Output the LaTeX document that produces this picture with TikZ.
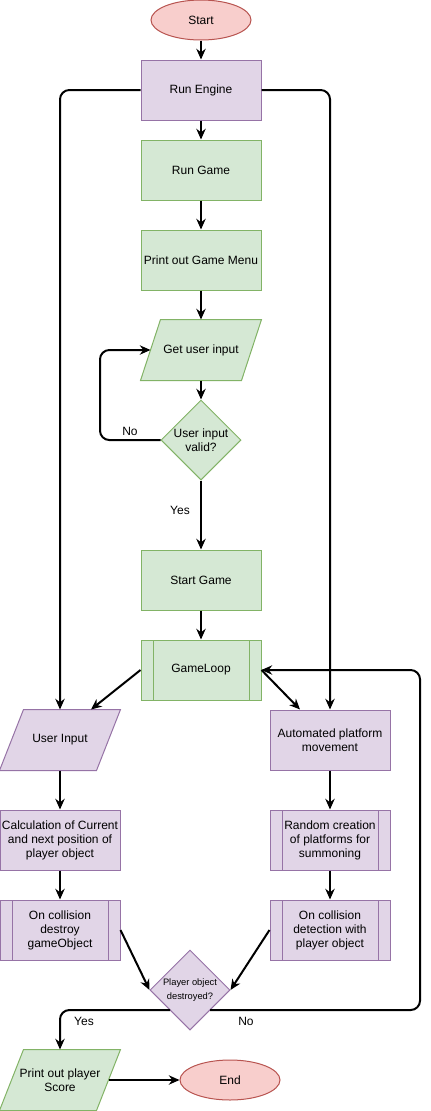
\documentclass[tikz,border=0pt]{standalone}
\usepackage{fontspec}
\setmainfont{Liberation Sans}
\usetikzlibrary{arrows.meta,shapes.geometric,calc}
\definecolor{gfill}{HTML}{D5E8D4}
\definecolor{gdraw}{HTML}{82B366}
\definecolor{pfill}{HTML}{E1D5E7}
\definecolor{pdraw}{HTML}{9673A6}
\definecolor{rfill}{HTML}{F8CECC}
\definecolor{rdraw}{HTML}{B85450}
\newcommand{\paragram}[4]{% name, slant, draw, fill
  \draw[#3, fill=#4, line width=0.75pt]
    ($(#1.north west)+(#2,0)$) -- (#1.north east) -- ($(#1.south east)+(-#2,0)$) -- (#1.south west) -- cycle;}
\begin{document}
\begin{tikzpicture}[x=0.75pt,y=-0.75pt,
  every node/.style={font=\fontsize{9}{10.5}\selectfont, align=center, text=black},
  box/.style={rectangle, minimum width=90pt, minimum height=45pt, inner sep=0pt, line width=0.75pt},
  gbox/.style={box, draw=gdraw, fill=gfill},
  pbox/.style={box, draw=pdraw, fill=pfill},
  txtbox/.style={box, draw=none},
  proc/.style={path picture={
      \draw[#1, line width=0.75pt] ($(path picture bounding box.north west)+(9pt,0pt)$) -- ($(path picture bounding box.south west)+(9pt,0pt)$);
      \draw[#1, line width=0.75pt] ($(path picture bounding box.north east)+(-9pt,0pt)$) -- ($(path picture bounding box.south east)+(-9pt,0pt)$);}},
  term/.style={ellipse, minimum width=75pt, minimum height=30pt, draw=rdraw, fill=rfill, inner sep=0pt, line width=0.75pt},
  dia/.style={diamond, minimum width=60pt, minimum height=60pt, inner sep=0pt, aspect=1, line width=0.75pt},
  arr/.style={line width=1.5pt, -{Stealth[length=8pt,width=7pt]}, rounded corners=7pt},
  lbl/.style={inner sep=0pt}
]
\useasboundingbox (0,0) rectangle (430,1111);

% nodes
\node[term] (start) at (201,20) {Start};
\node[pbox] (re) at (201,90) {Run Engine};
\node[gbox] (rg) at (201,170) {Run Game};
\node[gbox] (pm) at (201,260) {Print out Game Menu};
\node[txtbox] (gi) at (201,350) {};
\paragram{gi}{20}{gdraw}{gfill}
\node[lbl] (gitxt) at (gi) {Get user input};
\node[dia, draw=gdraw, fill=gfill] (d1) at (201,440) {};
\node[lbl] (d1txt) at (d1) {User input\\valid?};
\node[gbox] (sg) at (201,580) {Start Game};
\node[gbox, proc=gdraw] (gl) at (201,670) {GameLoop};

\node[txtbox] (ui) at (60,740) {};
\paragram{ui}{24}{pdraw}{pfill}
\node[lbl] (uitxt) at (ui) {User Input};
\node[pbox] (ap) at (330,740) {Automated platform\\movement};
\node[pbox] (calc) at (60,840) {Calculation of Current\\and next position of\\player object};
\node[pbox, proc=pdraw] (rc) at (330,840) {Random creation\\of platforms for\\summoning};
\node[pbox, proc=pdraw] (ocd) at (60,930) {On collision\\destroy\\gameObject};
\node[pbox, proc=pdraw] (ocp) at (330,930) {On collision\\detection with\\player object};
\node[dia, draw=pdraw, fill=pfill] (d2) at (190,990) {};
\node[lbl, font=\fontsize{7}{11}\selectfont] (d2txt) at (d2) {Player object\\destroyed?};
\node[txtbox] (ps) at (60,1080) {};
\paragram{ps}{24}{gdraw}{gfill}
\node[lbl] (pstxt) at (ps) {Print out player\\Score};
\node[term] (end) at (230,1080) {End};

% connectors
\draw[arr] (start) -- (re);
\draw[arr] (re.west) -| (ui.north);
\draw[arr] (re.east) -| (ap.north);
\draw[arr] (re) -- (rg);
\draw[arr] (rg) -- (pm);
\draw[arr] (pm) -- (gi);
\draw[arr] (gi) -- (d1);
\draw[arr] (d1.west) -- (100,440) -- (100,350) -- ($(gi.west)+(10,0)$);
\node[lbl] (no1) at (130,431) {No};
\draw[arr] (d1) -- (sg);
\node[lbl] (yes1) at (180,510) {Yes};
\draw[arr] (sg) -- (gl);
\draw[arr] (gl.west) -- ($(ui.north)+(31,0)$);
\draw[arr] (gl.east) -- ($(ap.north)+(-30,0)$);
\draw[arr] (ui) -- (calc);
\draw[arr] (calc) -- (ocd);
\draw[arr] (ap) -- (rc);
\draw[arr] (rc) -- (ocp);
\draw[arr] (ocd.east) -- (d2.west);
\draw[arr] (ocp.west) -- (d2.east);
\draw[arr] ($(d2.center)+(-20,20)$) -| (ps.north);
\node[lbl] (yes2) at (84,1021) {Yes};
\draw[arr] ($(d2.center)+(20,20)$) -- (420,1010) -- (420,670) -- (gl.east);
\node[lbl] (no2) at (246,1021) {No};
\draw[arr] ($(ps.east)+(-12,0)$) -- (end.west);
\end{tikzpicture}
\end{document}
